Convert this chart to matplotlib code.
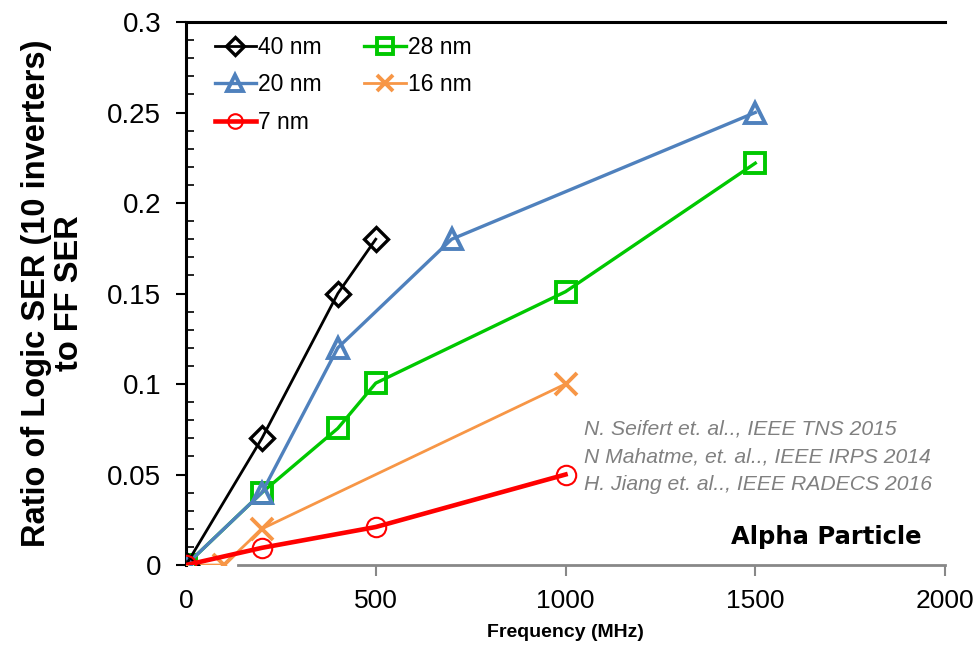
import matplotlib
matplotlib.use("Agg")
import matplotlib.pyplot as plt
from matplotlib.ticker import MultipleLocator

plt.rcParams['font.family'] = ['Liberation Sans', 'DejaVu Sans']

# Frequency (MHz) and SER ratio for each technology node
f40 = [0, 200, 400, 500]
r40 = [0, 0.07, 0.15, 0.18]
f28 = [0, 200, 400, 500, 1000, 1500]
r28 = [0, 0.04, 0.0755, 0.1005, 0.151, 0.222]
f20 = [0, 200, 400, 700, 1500]
r20 = [0, 0.04, 0.12, 0.18, 0.25]
f16 = [0, 100, 200, 1000]
r16 = [0, 0, 0.02, 0.1]
f7 = [0, 200, 500, 1000]
r7 = [0, 0.0095, 0.021, 0.05]

x_ticks = [0, 500, 1000, 1500, 2000]
y_ticks = [0, 0.05, 0.1, 0.15, 0.2, 0.25, 0.3]
y_tick_labels = ['0', '0.05', '0.1', '0.15', '0.2', '0.25', '0.3']

citations = ["N. Seifert et. al.., IEEE TNS 2015",
             "N Mahatme, et. al.., IEEE IRPS 2014",
             "H. Jiang et. al.., IEEE RADECS 2016"]

fig = plt.figure(figsize=(9.8, 6.49), dpi=100)
ax = fig.add_axes([0.1898, 0.1294, 0.7745, 0.8367])

l40, = ax.plot(f40, r40, color='black', lw=2.0, marker='D', ms=12, mfc='none',
               mew=2.4, label='40 nm', zorder=5)
l20, = ax.plot(f20, r20, color='#4F81BD', lw=2.4, marker='^', ms=15, mfc='none',
               mew=2.8, label='20 nm', zorder=4)
l7, = ax.plot(f7, r7, color='#FF0000', lw=3.3, marker='o', ms=14, mfc='none',
              mew=1.5, label='7 nm', zorder=6)
l28, = ax.plot(f28, r28, color='#00C800', lw=2.4, marker='s', ms=15, mfc='none',
               mew=2.8, label='28 nm', zorder=3)
l16, = ax.plot(f16, r16, color='#F79646', lw=2.0, marker='x', ms=16, mew=2.8,
               label='16 nm', zorder=2)

ax.set_xlim(0, 2000)
ax.set_ylim(0, 0.3)
ax.set_xticks(x_ticks)
ax.set_xticklabels([str(v) for v in x_ticks], fontsize=19)
ax.set_yticks(y_ticks)
ax.set_yticklabels(y_tick_labels, fontsize=20)
ax.yaxis.set_minor_locator(MultipleLocator(0.01))

ax.tick_params(axis='y', which='major', direction='out', length=7, width=1.5,
               color='black', pad=11)
ax.tick_params(axis='y', which='minor', direction='in', length=6, width=1.2,
               color='black')
ax.tick_params(axis='x', which='major', direction='out', length=8, width=1.5,
               color='#888888', pad=9)
ax.xaxis.get_major_ticks()[0].tick1line.set_visible(False)

ax.spines['right'].set_visible(False)
ax.spines['top'].set_linewidth(2.2)
ax.spines['left'].set_linewidth(2.2)
ax.spines['bottom'].set_color('#888888')
ax.spines['bottom'].set_linewidth(2)
ax.spines['bottom'].set_bounds(137, 2000)
for s in ax.spines.values():
    s.set_zorder(1)

ax.set_xlabel('Frequency (MHz)', fontsize=14, fontweight='bold', labelpad=8)
ax.set_ylabel('Ratio of Logic SER (10 inverters)\nto FF SER', fontsize=23.5,
              fontweight='bold', linespacing=1.08, labelpad=16)

leg = ax.legend([l40, l20, l7, l28, l16], ['40 nm', '20 nm', '7 nm', '28 nm', '16 nm'],
                ncol=2, loc='upper left', bbox_to_anchor=(0.038, 0.974),
                frameon=False, borderpad=0, borderaxespad=0,
                fontsize=16.5, handlelength=1.8, handletextpad=0.1,
                columnspacing=1.85, labelspacing=0.62, markerscale=0.75)

for i, c in enumerate(citations):
    ax.text(1050, 0.075 - i * 0.0152, c, fontsize=15.2, style='italic',
            color='#808080', ha='left', va='center')
ax.text(1939, 0.0155, 'Alpha Particle', fontsize=17.5, fontweight='bold',
        fontfamily='DejaVu Sans', ha='right', va='center')

fig.savefig('out.png', dpi=100)
